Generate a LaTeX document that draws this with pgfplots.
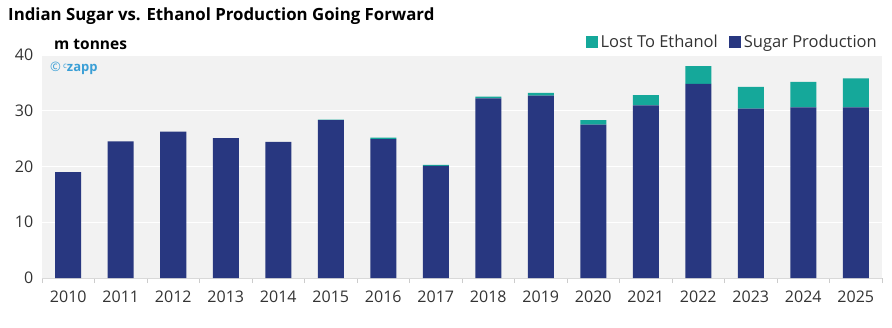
\documentclass[border=0pt]{standalone}
\usepackage{pgfplots}
\pgfplotsset{compat=1.18}
\usepackage{fontspec}
\setmainfont{Open Sans}
\definecolor{navy}{HTML}{283780}
\definecolor{teal}{HTML}{15A89A}
\definecolor{bg}{HTML}{F2F2F2}
\definecolor{czblue}{HTML}{3A9FD6}
\begin{document}
\begin{tikzpicture}
\useasboundingbox (-42pt,-49pt) rectangle (850pt,278pt);
\begin{axis}[
  scale only axis, width=840pt, height=223pt,
  at={(0,0)}, anchor=south west,
  xmin=-0.5, xmax=15.5, ymin=0, ymax=40,
  ybar stacked, bar width=26pt,
  axis background/.style={fill=bg},
  axis x line*=bottom, axis y line*=left,
  x axis line style={draw=black!15},
  y axis line style={draw=none},
  xtick={0,...,15},
  xticklabels={2010,2011,2012,2013,2014,2015,2016,2017,2018,2019,2020,2021,2022,2023,2024,2025},
  minor xtick={-0.5,0.5,...,15.5},
  major x tick style={draw=none},
  minor x tick style={draw=black!20},
  minor tick length=5pt,
  tick align=outside,
  ytick={0,10,20,30,40},
  major y tick style={draw=none},
  ymajorgrids, grid style={white, line width=1pt},
  /pgf/number format/assume math mode=true,
  tick label style={font=\fontsize{16}{19}\selectfont, text=black!80},
  xticklabel style={yshift=-5pt},
  yticklabel style={xshift=-1pt},
  legend style={at={(rel axis cs:1,1)}, anchor=south east, yshift=2pt, draw=none, fill=none,
    legend columns=2, font=\fontsize{16.5}{19}\selectfont, text=black!80,
    /tikz/every even column/.append style={column sep=9pt},
    /tikz/every odd column/.append style={column sep=1pt}},
  legend image code/.code={\fill[#1] (0pt,-6pt) rectangle (12pt,6pt);},
  reverse legend,
  clip=false,
]
\addplot[fill=navy, draw=none] coordinates {
(0,19.0) (1,24.5) (2,26.25) (3,25.1) (4,24.4) (5,28.3) (6,24.9) (7,20.1)
(8,32.2) (9,32.7) (10,27.5) (11,30.95) (12,34.8) (13,30.4) (14,30.6) (15,30.6)};
\addlegendentry{Sugar Production}
\addplot[fill=teal, draw=none] coordinates {
(0,0) (1,0) (2,0) (3,0) (4,0) (5,0.1) (6,0.3) (7,0.2)
(8,0.35) (9,0.5) (10,0.8) (11,1.85) (12,3.2) (13,3.9) (14,4.6) (15,5.2)};
\addlegendentry{Lost To Ethanol}
\end{axis}
\node[anchor=base west, font=\fontsize{16.8}{20}\selectfont\bfseries, inner sep=0pt] at (-34pt,257pt) {Indian Sugar vs. Ethanol Production Going Forward};
\node[anchor=base west, font=\fontsize{15.5}{18}\selectfont\bfseries, inner sep=0pt] at (12pt,228pt) {m tonnes};
\node[anchor=base west, font=\fontsize{13}{16}\selectfont, inner sep=0pt, text=czblue] at (8pt,206pt) {\textcopyright\,\raisebox{3pt}{\fontsize{8}{9}\selectfont c}\textbf{zapp}};
\end{tikzpicture}
\end{document}
